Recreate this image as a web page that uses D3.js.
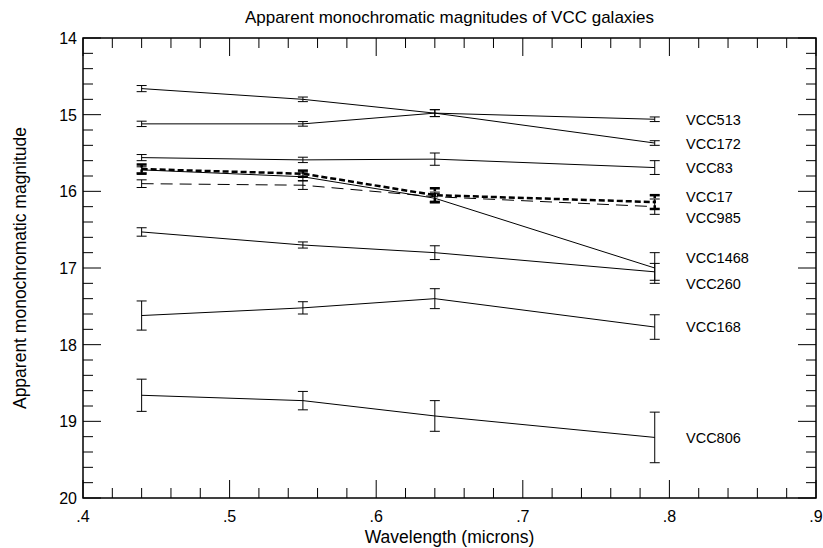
<!DOCTYPE html>
<html>
<head>
<meta charset="utf-8">
<script src="https://cdn.jsdelivr.net/npm/d3@7"></script>
<style>
  body { margin: 0; background: #fff; }
  text { font-family: "Liberation Sans", Arial, sans-serif; fill: #000; }
</style>
</head>
<body>
<svg width="823" height="548"></svg>
<script>
// wavelengths (microns)
var wavelengths = [0.44, 0.55, 0.64, 0.79];

var galaxies = ['VCC513', 'VCC172', 'VCC83', 'VCC17', 'VCC985', 'VCC1468', 'VCC260', 'VCC168', 'VCC806'];

var magnitudes = [
    [15.12, 15.12, 14.98, 15.06],
    [14.66, 14.80, 14.98, 15.37],
    [15.56, 15.59, 15.58, 15.69],
    [15.71, 15.77, 16.05, 16.14],
    [15.90, 15.92, 16.07, 16.20],
    [15.72, 15.81, 16.09, 17.00],
    [16.53, 16.70, 16.80, 17.05],
    [17.62, 17.52, 17.40, 17.77],
    [18.66, 18.73, 18.93, 19.21]
];

var errors = [
    [0.035, 0.03, 0.045, 0.03],
    [0.04, 0.03, 0.045, 0.03],
    [0.04, 0.035, 0.08, 0.09],
    [0.06, 0.04, 0.09, 0.09],
    [0.05, 0.055, 0.06, 0.10],
    [0.04, 0.05, 0.06, 0.20],
    [0.055, 0.04, 0.09, 0.11],
    [0.19, 0.08, 0.13, 0.16],
    [0.21, 0.12, 0.20, 0.33]
];

var lineStyles = ['solid', 'solid', 'solid', 'thickdash', 'dash', 'solid', 'solid', 'solid', 'solid'];

// label positions (magnitude at label centre)
var labelMags = [15.07, 15.38, 15.70, 16.07, 16.35, 16.87, 17.21, 17.77, 19.22];

var xTicks = [0.4, 0.5, 0.6, 0.7, 0.8, 0.9];
var yTicks = [14, 15, 16, 17, 18, 19, 20];

var svg = d3.select('svg');
var plotLeft = 83, plotRight = 816, plotTop = 38, plotBottom = 498;

var x = d3.scaleLinear().domain([0.4, 0.9]).range([plotLeft, plotRight]);
var y = d3.scaleLinear().domain([14, 20]).range([plotTop, plotBottom]);

var fmt = function (d) { return d3.format('.1f')(d).replace(/^0/, ''); };

// axes with inward ticks
function tickSet(g, scale, minorStep, majors, orient) {
    var minors = d3.range(scale.domain()[0], scale.domain()[1] + 1e-9, minorStep);
    minors.forEach(function (v) {
        var isMajor = majors.some(function (m) { return Math.abs(m - v) < 1e-6; });
        var len = isMajor ? 18 : 10;
        var p = scale(v);
        var ln = g.append('line').attr('stroke', '#000').attr('stroke-width', 1);
        if (orient === 'bottom') ln.attr('x1', p).attr('x2', p).attr('y1', plotBottom).attr('y2', plotBottom - len);
        if (orient === 'top') ln.attr('x1', p).attr('x2', p).attr('y1', plotTop).attr('y2', plotTop + len);
        if (orient === 'left') ln.attr('y1', p).attr('y2', p).attr('x1', plotLeft).attr('x2', plotLeft + len);
        if (orient === 'right') ln.attr('y1', p).attr('y2', p).attr('x1', plotRight).attr('x2', plotRight - len);
    });
}

var axes = svg.append('g');
tickSet(axes, x, 0.02, xTicks, 'bottom');
tickSet(axes, x, 0.02, xTicks, 'top');
tickSet(axes, y, 0.2, yTicks, 'left');
tickSet(axes, y, 0.2, yTicks, 'right');

axes.append('rect')
    .attr('x', plotLeft).attr('y', plotTop)
    .attr('width', plotRight - plotLeft).attr('height', plotBottom - plotTop)
    .attr('fill', 'none').attr('stroke', '#000').attr('stroke-width', 1.5);

axes.selectAll('.xlab')
    .data(xTicks)
    .enter()
    .append('text')
        .attr('x', function (d) { return x(d); })
        .attr('y', plotBottom + 24)
        .attr('text-anchor', 'middle')
        .attr('font-size', 16)
        .text(fmt);

axes.selectAll('.ylab')
    .data(yTicks)
    .enter()
    .append('text')
        .attr('x', plotLeft - 6)
        .attr('y', function (d) { return y(d) + 6; })
        .attr('text-anchor', 'end')
        .attr('font-size', 16)
        .text(function (d) { return d; });

svg.append('text')
    .attr('x', (plotLeft + plotRight) / 2)
    .attr('y', 23)
    .attr('text-anchor', 'middle')
    .attr('font-size', 17)
    .text('Apparent monochromatic magnitudes of VCC galaxies');

svg.append('text')
    .attr('x', (plotLeft + plotRight) / 2)
    .attr('y', 543)
    .attr('text-anchor', 'middle')
    .attr('font-size', 17.5)
    .text('Wavelength (microns)');

svg.append('text')
    .attr('transform', 'translate(26,' + (plotTop + plotBottom) / 2 + ') rotate(-90)')
    .attr('text-anchor', 'middle')
    .attr('font-size', 17.5)
    .text('Apparent monochromatic magnitude');

// series
var line = d3.line()
    .x(function (d) { return x(d.w); })
    .y(function (d) { return y(d.m); });

var dash = { solid: null, dash: '12,7', thickdash: '6,3' };
var strokeW = { solid: 1, dash: 1, thickdash: 2.5 };

galaxies.forEach(function (name, i) {
    var pts = wavelengths.map(function (w, j) {
        return { w: w, m: magnitudes[i][j], e: errors[i][j] };
    });
    var st = lineStyles[i];
    var g = svg.append('g').attr('class', 'series');

    g.append('path')
        .datum(pts)
        .attr('d', line)
        .attr('fill', 'none')
        .attr('stroke', '#000')
        .attr('stroke-width', strokeW[st])
        .attr('stroke-dasharray', dash[st]);

    var eb = g.selectAll('.err')
        .data(pts)
        .enter()
        .append('g')
            .attr('stroke', '#000')
            .attr('stroke-width', st === 'thickdash' ? 2.5 : 1);

    eb.append('line')
        .attr('x1', function (d) { return x(d.w); })
        .attr('x2', function (d) { return x(d.w); })
        .attr('y1', function (d) { return y(d.m - d.e); })
        .attr('y2', function (d) { return y(d.m + d.e); })
        .attr('stroke-dasharray', st === 'thickdash' ? '3,2' : null);
    [-1, 1].forEach(function (s) {
        eb.append('line')
            .attr('x1', function (d) { return x(d.w) - 5; })
            .attr('x2', function (d) { return x(d.w) + 5; })
            .attr('y1', function (d) { return y(d.m + s * d.e); })
            .attr('y2', function (d) { return y(d.m + s * d.e); });
    });

    svg.append('text')
        .attr('x', 686)
        .attr('y', y(labelMags[i]) + 5)
        .attr('font-size', 14.5)
        .text(name);
});
</script>
</body>
</html>
